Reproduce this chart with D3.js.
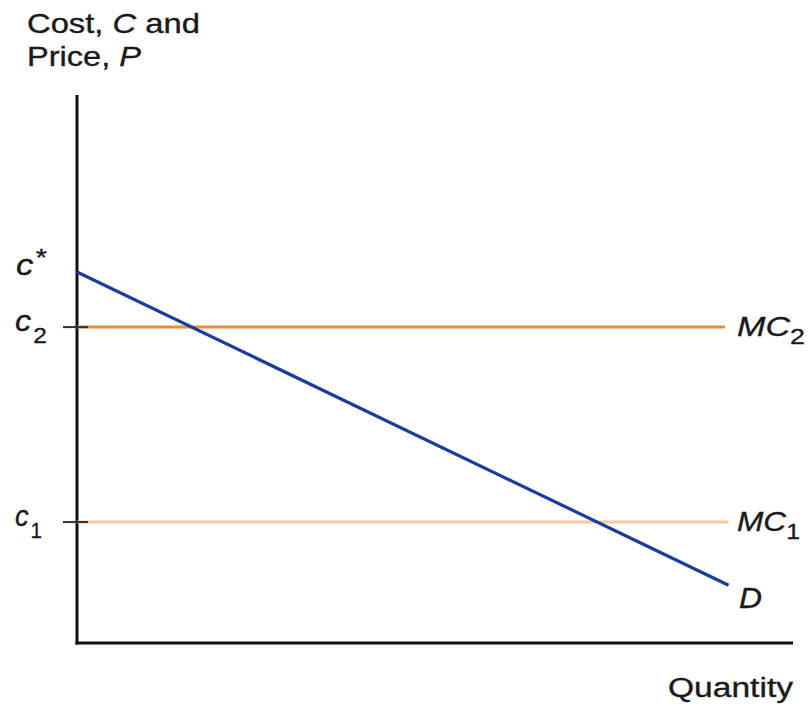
<!DOCTYPE html>
<html>
<head>
<meta charset="utf-8">
<script src="https://cdn.jsdelivr.net/npm/d3@7"></script>
<style>
  html, body { margin: 0; padding: 0; background: #fff; }
  svg { display: block; }
  text { font-family: "Liberation Sans", Arial, Helvetica, sans-serif; fill: #1a1a1a; stroke: #1a1a1a; stroke-width: 0.35; }
</style>
</head>
<body>
<svg id="chart" width="808" height="705"></svg>
<script>
// ---- data ----
const xDomain = [0, 10];
const yDomain = [0, 10];
const mcLevels = [
  { name: "MC", sub: "2", value: 5.85, end: 9.05, tick: "c", tickSub: "2", color: "#ef8a3a" },
  { name: "MC", sub: "1", value: 2.24, end: 9.1, tick: "c", tickSub: "1", color: "#f6c9a1" }
];
const demandPoints = [ { q: 0, p: 6.87 }, { q: 9.1, p: 1.07 } ];
const cStar = 6.87;
const axisTitles = { y1: "Cost, ", y1i: "C", y1b: " and", y2: "Price, ", y2i: "P", x: "Quantity" };

// ---- layout ----
const svg = d3.select("#chart");
const x = d3.scaleLinear().domain(xDomain).range([77, 793]);
const y = d3.scaleLinear().domain(yDomain).range([643, 103]);

// axes
const axisG = svg.append("g");
axisG.append("line").attr("x1", x(0)).attr("x2", x(0)).attr("y1", 95).attr("y2", y(0) + 1.5)
  .attr("stroke", "#111").attr("stroke-width", 3);
axisG.append("line").attr("x1", x(0) - 1.5).attr("x2", x(10)).attr("y1", y(0)).attr("y2", y(0))
  .attr("stroke", "#111").attr("stroke-width", 3);

// MC lines
svg.selectAll("line.mc").data(mcLevels).join("line").attr("class", "mc")
  .attr("x1", x(0)).attr("x2", d => x(d.end))
  .attr("y1", d => y(d.value)).attr("y2", d => y(d.value))
  .attr("stroke", d => d.color).attr("stroke-width", 3);

// tick marks
svg.selectAll("line.tk").data(mcLevels).join("line").attr("class", "tk")
  .attr("x1", x(0) - 14).attr("x2", x(0) + 11)
  .attr("y1", d => y(d.value)).attr("y2", d => y(d.value))
  .attr("stroke", "#333").attr("stroke-width", 2);

// demand
svg.append("path").datum(demandPoints)
  .attr("d", d3.line().x(d => x(d.q)).y(d => y(d.p)))
  .attr("fill", "none").attr("stroke", "#1c3c9c").attr("stroke-width", 3.2);

// tick labels
const tl = svg.selectAll("text.tl").data(mcLevels).join("text").attr("class", "tl")
  .attr("x", 15).attr("y", d => y(d.value) + 4)
  .attr("font-size", 29).attr("font-style", "italic")
  .attr("textLength", d => d.tickSub === "2" ? 32 : 27).attr("lengthAdjust", "spacingAndGlyphs");
tl.append("tspan").text(d => d.tick);
tl.append("tspan").attr("dy", 12).attr("dx", 2).attr("font-style", "normal").attr("font-size", 22).text(d => d.tickSub);

const cs = svg.append("text").attr("x", 16).attr("y", y(cStar) + 3)
  .attr("font-size", 29).attr("font-style", "italic")
  .attr("textLength", 31).attr("lengthAdjust", "spacingAndGlyphs");
cs.append("tspan").text("c");
cs.append("tspan").attr("dy", -9).attr("dx", 2).attr("font-style", "normal").attr("font-size", 24).text("*");

// MC labels
const ml = svg.selectAll("text.ml").data(mcLevels).join("text").attr("class", "ml")
  .attr("x", 737).attr("y", d => y(d.value) + 9)
  .attr("font-size", 28)
  .attr("textLength", d => d.sub === "2" ? 68 : 63).attr("lengthAdjust", "spacingAndGlyphs");
ml.append("tspan").attr("font-style", "italic").text(d => d.name);
ml.append("tspan").attr("dy", 8).attr("font-size", 22).text(d => d.sub);

// D label
svg.append("text").attr("x", 739).attr("y", y(demandPoints[1].p) + 23)
  .attr("font-size", 29).attr("font-style", "italic")
  .attr("textLength", 23).attr("lengthAdjust", "spacingAndGlyphs").text("D");

// axis titles
const t1 = svg.append("text").attr("x", 27).attr("y", 33).attr("font-size", 28)
  .attr("textLength", 173).attr("lengthAdjust", "spacingAndGlyphs");
t1.append("tspan").text(axisTitles.y1);
t1.append("tspan").attr("font-style", "italic").text(axisTitles.y1i);
t1.append("tspan").text(axisTitles.y1b);
const t2 = svg.append("text").attr("x", 27).attr("y", 66).attr("font-size", 28)
  .attr("textLength", 114).attr("lengthAdjust", "spacingAndGlyphs");
t2.append("tspan").text(axisTitles.y2);
t2.append("tspan").attr("font-style", "italic").text(axisTitles.y2i);

svg.append("text").attr("x", 668).attr("y", 697)
  .attr("font-size", 27)
  .attr("textLength", 125).attr("lengthAdjust", "spacingAndGlyphs").text(axisTitles.x);
</script>
</body>
</html>
